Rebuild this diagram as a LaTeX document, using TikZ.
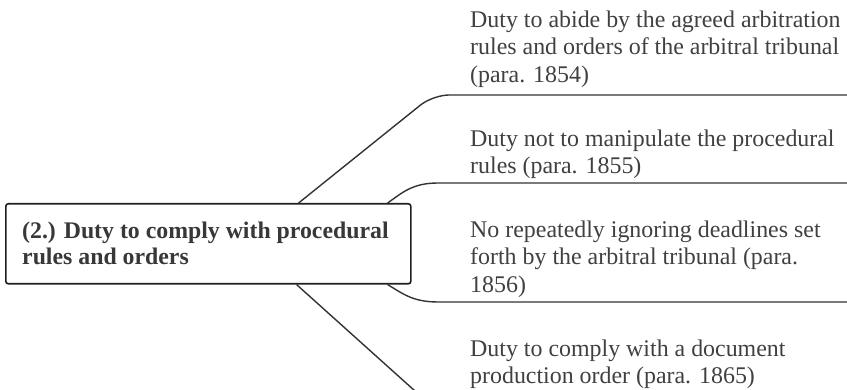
\documentclass[tikz,border=0pt]{standalone}
\usepackage{fontspec}
\setmainfont{Liberation Serif}
\definecolor{txt}{HTML}{404040}
\definecolor{ln}{HTML}{333333}
\begin{document}
\begin{tikzpicture}[x=1pt,y=-1pt,
  leaf/.style={anchor=north west, inner sep=0pt, align=left, text=txt,
    font=\fontsize{23.9}{27.5}\selectfont},
  rootbox/.style={draw=black!88, line width=1.6pt, rounded corners=2.5pt, fill=white,
    minimum width=405pt, minimum height=80pt, anchor=north west, inner sep=0pt},
  branch/.style={draw=ln, line width=1.4pt}]
\useasboundingbox (0,0) rectangle (847,390);
\clip (0,0) rectangle (847,390);
% branches
\coordinate (e1) at (847,95);
\coordinate (e2) at (847,183);
\coordinate (e3) at (847,302);
\coordinate (e4) at (847,400);
\node[rootbox] (root) at (5,203) {};
\draw[branch, rounded corners=16pt] ([xshift=-113pt]root.north east) -- (433,95) -- (e1);
\draw[branch] ([xshift=-24pt]root.north east) .. controls (402,193) and (412,183) .. (438,183) -- (e2);
\draw[branch] ([xshift=-24pt]root.south east) .. controls (402,293) and (412,302) .. (438,302) -- (e3);
\draw[branch, rounded corners=16pt] ([xshift=-115pt]root.south east) -- (425,400) -- (e4);
\node[anchor=north west, inner sep=0pt, align=left, text=black!78,
  font=\fontsize{23.8}{26.5}\selectfont\bfseries] (roottext) at (22,221.5)
  {(2.) Duty to comply with procedural\\rules and orders};
\node[leaf] (l1) at (470,10.3) {Duty to abide by the agreed arbitration\\rules and orders of the arbitral tribunal\\(para. 1854)};
\node[leaf] (l2) at (470,129.3) {Duty not to manipulate the procedural\\rules (para. 1855)};
\node[leaf] (l3) at (470,220.3) {No repeatedly ignoring deadlines set\\forth by the arbitral tribunal (para.\\1856)};
\node[leaf] (l4) at (470,339.3) {Duty to comply with a document\\production order (para. 1865)};
\end{tikzpicture}
\end{document}
